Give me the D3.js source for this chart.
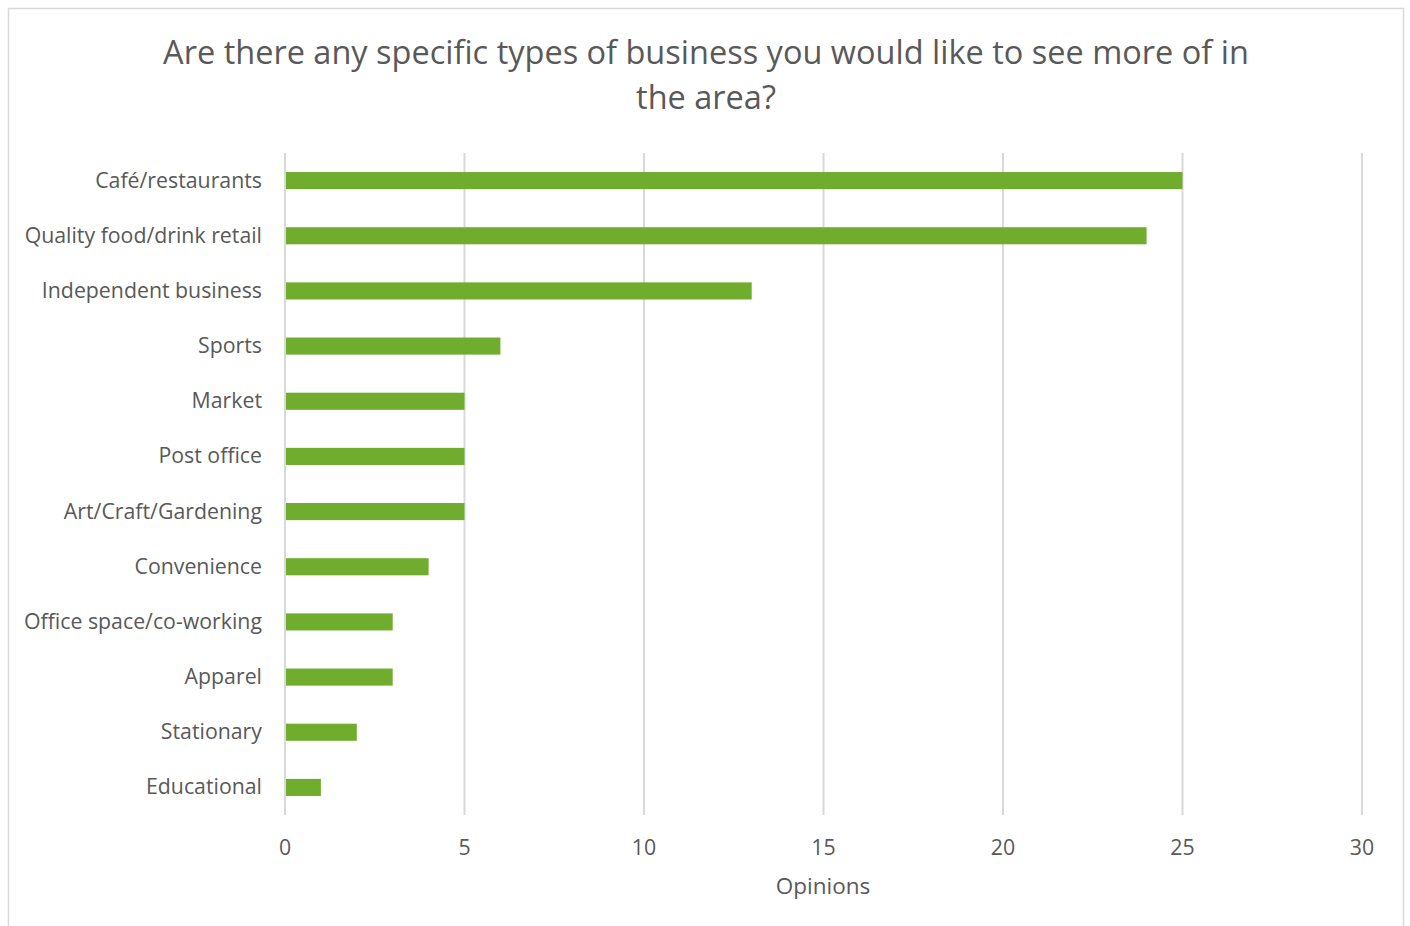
<!DOCTYPE html>
<html><head><meta charset="utf-8">
<script src="https://cdn.jsdelivr.net/npm/d3@7"></script>
<style>body{margin:0;background:#fff;} text{font-family:"Open Sans", sans-serif;}</style>
</head><body><svg id="c" width="1410" height="926"></svg>
<script>
const categories = ["Café/restaurants","Quality food/drink retail","Independent business","Sports","Market","Post office","Art/Craft/Gardening","Convenience","Office space/co-working","Apparel","Stationary","Educational"];
const values = [25,24,13,6,5,5,5,4,3,3,2,1];
const ticks = [0,5,10,15,20,25,30];
const titleLines = ["Are there any specific types of business you would like to see more of in","the area?"];
const axisTitle = "Opinions";

const svg = d3.select("#c");
const txt = "#595959";
svg.append("rect").attr("x",8.5).attr("y",8.5).attr("width",1395).attr("height",930).attr("fill","#fff").attr("stroke","#d9d9d9").attr("stroke-width",1.5);

const x = d3.scaleLinear().domain([0,30]).range([285,1362]);
const y = d3.scaleBand().domain(categories).range([153,815]).paddingInner(0.69).paddingOuter(0.345);

svg.append("g").selectAll("line").data(ticks).join("line")
  .attr("x1",d=>x(d)).attr("x2",d=>x(d)).attr("y1",153).attr("y2",815)
  .attr("stroke","#d9d9d9").attr("stroke-width",2);

svg.append("g").selectAll("rect").data(values).join("rect")
  .attr("x",x(0)+1).attr("y",(d,i)=>y(categories[i])).attr("height",y.bandwidth())
  .attr("width",d=>x(d)-x(0)-1).attr("fill","#70ad2f");

svg.append("g").selectAll("text").data(categories).join("text")
  .attr("x",262).attr("y",d=>y(d)+y.bandwidth()/2).attr("dy","0.33em")
  .attr("text-anchor","end").attr("fill",txt).attr("font-size",21.3).text(d=>d);

svg.append("g").selectAll("text").data(ticks).join("text")
  .attr("x",d=>x(d)).attr("y",848).attr("dy","0.35em").attr("text-anchor","middle")
  .attr("fill",txt).attr("font-size",21.3).text(d=>d);

svg.append("text").attr("x",823).attr("y",886).attr("dy","0.35em").attr("text-anchor","middle")
  .attr("fill",txt).attr("font-size",22.5).text(axisTitle);

svg.append("g").selectAll("text").data(titleLines).join("text")
  .attr("x",706).attr("y",(d,i)=>53+i*45).attr("dy","0.35em").attr("text-anchor","middle")
  .attr("fill",txt).attr("font-size",32.5).text(d=>d);
</script></body></html>
